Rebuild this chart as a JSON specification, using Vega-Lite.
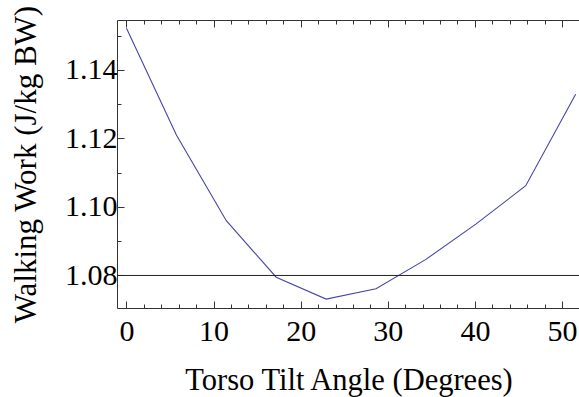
{
  "$schema": "https://vega.github.io/schema/vega-lite/v6.json",
  "width": 463,
  "height": 288,
  "autosize": {"type": "none"},
  "padding": {"left": 117, "top": 20, "right": 0, "bottom": 89},
  "background": "white",
  "config": {
    "font": "Liberation Serif",
    "view": {"stroke": null},
    "axis": {
      "labelFont": "Liberation Serif",
      "titleFont": "Liberation Serif",
      "grid": false,
      "domainColor": "#333333",
      "tickColor": "#333333",
      "labelColor": "black",
      "titleColor": "black",
      "titleFontWeight": "normal",
      "domainWidth": 1,
      "tickWidth": 1
    }
  },
  "datasets": {
    "work": [
      {"angle": 0, "work": 1.1522},
      {"angle": 5.73, "work": 1.121},
      {"angle": 11.46, "work": 1.096},
      {"angle": 17.19, "work": 1.0795},
      {"angle": 22.92, "work": 1.0731},
      {"angle": 28.65, "work": 1.0761},
      {"angle": 34.38, "work": 1.0847},
      {"angle": 40.11, "work": 1.095},
      {"angle": 45.84, "work": 1.1062},
      {"angle": 51.57, "work": 1.1329}
    ],
    "ref": [{"level": 1.08}]
  },
  "layer": [
    {
      "data": {"name": "work"},
      "mark": {"type": "line", "color": "#4646a6", "strokeWidth": 1.1},
      "encoding": {
        "x": {
          "field": "angle", "type": "quantitative",
          "scale": {"domain": [-1.09, 52.07], "nice": false, "zero": false},
          "axis": {"orient": "bottom", "values": [0, 10, 20, 30, 40, 50], "tickSize": -7, "labelFont": "Liberation Serif", "labelFontSize": 30, "labelPadding": 15, "title": "Torso Tilt Angle (Degrees)", "titleFont": "Liberation Serif", "titleFontSize": 30.5, "titlePadding": 19}
        },
        "y": {
          "field": "work", "type": "quantitative",
          "scale": {"domain": [1.0705, 1.1546], "nice": false, "zero": false},
          "axis": {"orient": "left", "values": [1.08, 1.10, 1.12, 1.14], "format": ".2f", "tickSize": -7, "labelFont": "Liberation Serif", "labelFontSize": 30, "labelPadding": 7, "title": "Walking Work (J/kg BW)", "titleFont": "Liberation Serif", "titleFontSize": 31, "titlePadding": 22}
        }
      }
    },
    {
      "data": {"name": "ref"},
      "mark": {"type": "rule", "color": "#222222", "strokeWidth": 1},
      "encoding": {
        "y": {
          "field": "level", "type": "quantitative",
          "scale": {"domain": [1.0705, 1.1546], "nice": false, "zero": false},
          "axis": {"orient": "left", "values": [1.07, 1.09, 1.11, 1.13, 1.15], "tickSize": -4, "labels": false, "domain": false, "title": null}
        }
      }
    },
    {
      "data": {"name": "work"},
      "mark": {"type": "line", "strokeOpacity": 0},
      "encoding": {
        "x": {
          "field": "angle", "type": "quantitative",
          "scale": {"domain": [-1.09, 52.07], "nice": false, "zero": false},
          "axis": {"orient": "bottom", "values": [2, 4, 6, 8, 12, 14, 16, 18, 22, 24, 26, 28, 32, 34, 36, 38, 42, 44, 46, 48, 52], "tickSize": -4, "labels": false, "domain": false, "title": null}
        },
        "y": {"field": "work", "type": "quantitative", "axis": null}
      }
    },
    {
      "data": {"name": "work"},
      "mark": {"type": "line", "strokeOpacity": 0},
      "encoding": {
        "x": {
          "field": "angle", "type": "quantitative",
          "scale": {"domain": [-1.09, 52.07], "nice": false, "zero": false},
          "axis": {"orient": "top", "values": [0, 10, 20, 30, 40, 50], "tickSize": -7, "labels": false, "domain": true, "title": null}
        },
        "y": {"field": "work", "type": "quantitative", "axis": null}
      }
    },
    {
      "data": {"name": "work"},
      "mark": {"type": "line", "strokeOpacity": 0},
      "encoding": {
        "x": {
          "field": "angle", "type": "quantitative",
          "scale": {"domain": [-1.09, 52.07], "nice": false, "zero": false},
          "axis": {"orient": "top", "values": [2, 4, 6, 8, 12, 14, 16, 18, 22, 24, 26, 28, 32, 34, 36, 38, 42, 44, 46, 48, 52], "tickSize": -4, "labels": false, "domain": false, "title": null}
        },
        "y": {"field": "work", "type": "quantitative", "axis": null}
      }
    }
  ],
  "resolve": {"axis": {"x": "independent", "y": "independent"}}
}
